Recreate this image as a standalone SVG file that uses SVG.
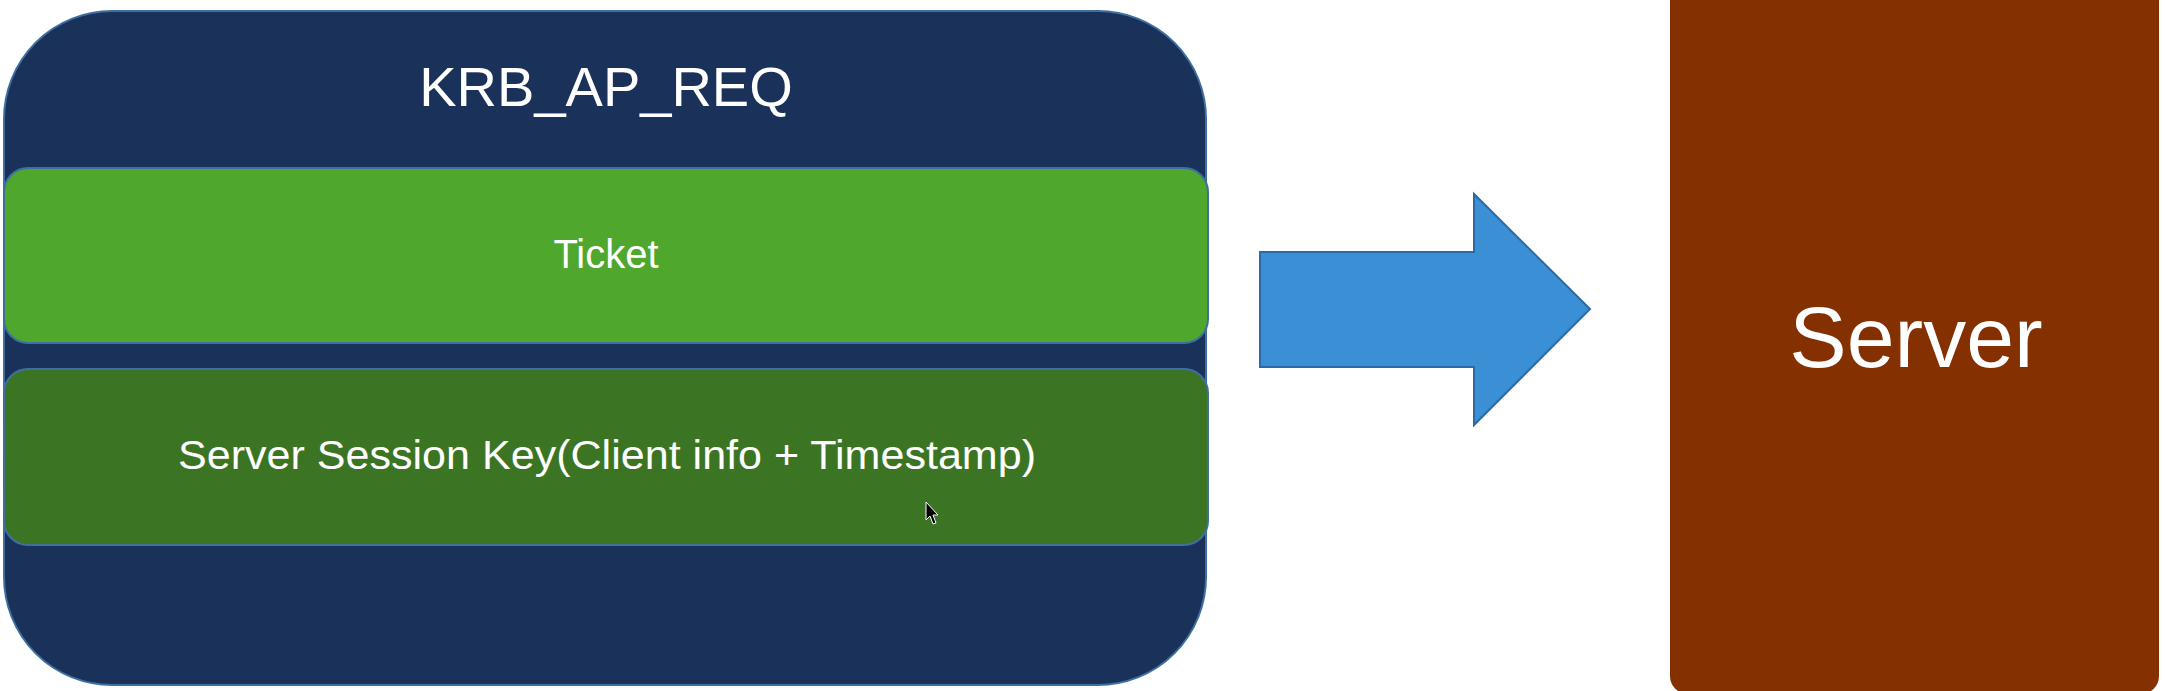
<svg xmlns="http://www.w3.org/2000/svg" width="2165" height="691" viewBox="0 0 2165 691">
<style>
.lbl{font-family:"Liberation Sans",Arial,sans-serif;fill:#ffffff;text-anchor:middle}
.band{stroke:#3f6fa0;stroke-width:2}
</style>
<rect width="2165" height="691" fill="#ffffff"/>
<g id="krb_ap_req">
<rect x="4" y="11" width="1202" height="674" rx="108" ry="108" fill="#1a3159" stroke="#3f6fa0" stroke-width="2"/>
<text class="lbl" x="606" y="106" font-size="56">KRB_AP_REQ</text>
</g>
<g id="ticket">
<rect class="band" x="4" y="168" width="1204" height="175" rx="24" ry="24" fill="#4fa72d"/>
<text class="lbl" x="606" y="268" font-size="40">Ticket</text>
</g>
<g id="session_key">
<rect class="band" x="4" y="369" width="1204" height="176" rx="24" ry="24" fill="#3b7524"/>
<text class="lbl" x="607" y="469" font-size="40" textLength="858" lengthAdjust="spacingAndGlyphs">Server Session Key(Client info + Timestamp)</text>
</g>
<g id="cursor">
<path d="M926,502 L926,520 L930,516 L933,524 L936,523 L933,515 L938,515 Z" fill="#000000" stroke="#ffffff" stroke-width="1"/>
</g>
<g id="connectors">
<polygon points="1260,252 1474,252 1474,194 1590,309 1474,425 1474,367 1260,367" fill="#3a8fd5" stroke="#2c6aa6" stroke-width="2"/>
</g>
<g id="server">
<rect x="1670" y="-30" width="489" height="724" rx="18" ry="18" fill="#843000"/>
<text class="lbl" x="1916" y="367" font-size="86">Server</text>
</g>
</svg>
